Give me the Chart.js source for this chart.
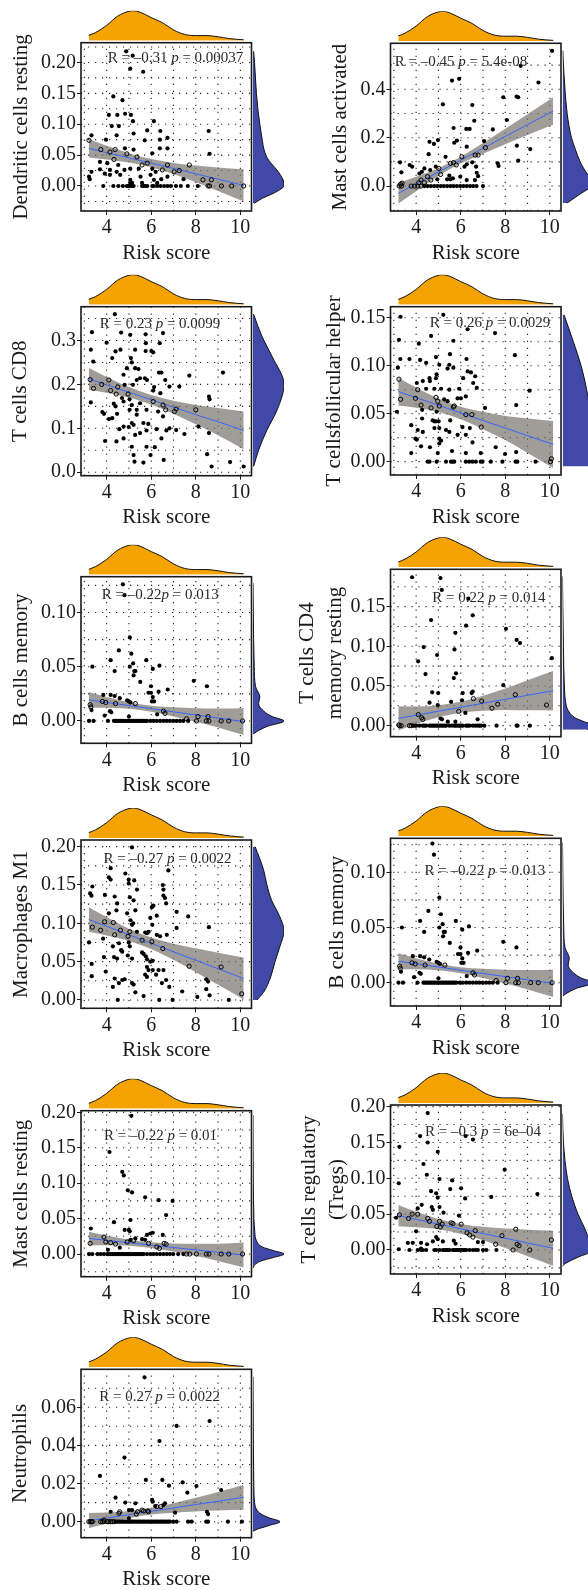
<!DOCTYPE html>
<html><head><meta charset="utf-8">
<script src="https://cdn.jsdelivr.net/npm/chart.js@4/dist/chart.umd.min.js"></script>
<style>
body{margin:0;background:#fff}
#wrap{position:relative;width:588px;height:1590px;overflow:hidden;background:#fff}
canvas{position:absolute}
</style></head><body><div id="wrap"></div>
<script>
// ---------------- DATA ----------------
const riskTicks = [4, 6, 8, 10];
const riskTickLabels = ['4', '6', '8', '10'];
const fitX = [3.2, 4, 5, 6, 7, 8, 9, 10.15];
const topDensX = [3.2, 3.5, 4, 4.5, 5, 5.2, 5.5, 6, 6.5, 7, 7.5, 8, 8.5, 9, 9.5, 10.15];
const topDensD = [0.18, 0.27, 0.51, 0.82, 0.98, 1.0, 0.95, 0.77, 0.6, 0.36, 0.21, 0.17, 0.17, 0.13, 0.07, 0.03];

// 1 Dendritic cells resting
const dcRestPts = [[4.88,0.218],[5.17,0.211],[5.06,0.19],[5.64,0.185],[4.3,0.145],[4.71,0.139],[4.1,0.115],[4.48,0.115],[4.83,0.117],[5.09,0.115],
[4.55,0.097],[4.23,0.097],[5.18,0.105],[6.12,0.105],[5.82,0.09],[6.41,0.089],[4.45,0.082],[5.21,0.085],[8.58,0.089],[3.21,0.074],
[3.32,0.082],[3.97,0.075],[5.71,0.074],[6.39,0.075],[6.73,0.078],[3.74,0.059],[4.15,0.055],[4.38,0.059],[4.82,0.061],[5.21,0.059],
[4.91,0.052],[5.36,0.047],[6.05,0.053],[6.39,0.061],[6.73,0.061],[8.62,0.052],[3.21,0.015],[3.32,0.023],[3.7,0.039],[4.03,0.037],
[3.7,0.027],[3.92,0.02],[4.15,0.026],[4.33,0.043],[4.52,0.034],[4.45,0.023],[4.8,0.026],[5.06,0.028],[5.44,0.028],[5.82,0.037],
[5.59,0.034],[6.05,0.028],[6.2,0.023],[6.5,0.026],[6.73,0.034],[7.03,0.023],[7.26,0.025],[7.71,0.034],[7.45,0.011],[8.32,0.01],
[8.7,0.01],[5.97,0.018],[6.45,0.011],[6.73,0.015],[5.52,0.015],[5.06,0.01],[4.61,0.018],[4.15,0.018],[3.24,0.011],[5.06,0.005],
[5.14,0.005],[5.59,0.005],[6.12,0.01],[6.27,0.005],
[3.85,0],[4.3,0],[4.53,0],[4.73,0],[4.91,0],[4.98,0],[5.06,0],[5.14,0],[5.21,0],[5.59,0],[5.67,0],[5.74,0],[5.82,0],[6.05,0],
[6.12,0],[6.27,0],[6.42,0],[6.58,0],[6.73,0],[6.88,0],[7.11,0],[7.33,0],[7.64,0],[8.09,0],[8.55,0],[8.62,0],[9.15,0],[9.61,0],[10.15,0]];
const dcRestFit = [0.061,0.054,0.0455,0.037,0.0284,0.0197,0.011,0.001];
const dcRestUp  = [0.076,0.065,0.053,0.0435,0.0374,0.0332,0.030,0.027];
const dcRestLo  = [0.046,0.043,0.038,0.0305,0.0194,0.0062,-0.008,-0.025];
const dcRestDensV = [-0.028,-0.02,-0.012,-0.005,0,0.01,0.026,0.042,0.058,0.074,0.1,0.123,0.15,0.2,0.218];
const dcRestDensD = [0.04,0.3,0.65,0.9,1,0.97,0.77,0.5,0.36,0.3,0.22,0.16,0.11,0.05,0.02];
const dcRestYTicks = [0, 0.05, 0.1, 0.15, 0.2];
const dcRestYLabels = ['0.00','0.05','0.10','0.15','0.20'];

// 2 Mast cells activated
const mastActPts = [[10.1,0.559],[9.49,0.428],[8.69,0.497],[7.91,0.367],[8.51,0.37],[8.58,0.367],[5.61,0.436],[5.93,0.443],[5.2,0.338],[6.52,0.335],
[8.07,0.273],[6.61,0.27],[7.44,0.234],[6.25,0.236],[6.4,0.236],[5.68,0.24],[5.71,0.179],[5.83,0.188],[4.98,0.19],[4.6,0.183],
[4.8,0.174],[6.27,0.163],[7.05,0.186],[7.11,0.159],[8.52,0.167],[9.12,0.153],[4.56,0.132],[5.32,0.121],[6.65,0.128],[6.78,0.128],
[6.05,0.121],[7.66,0.094],[7.7,0.083],[8.58,0.105],[3.28,0.098],[3.71,0.087],[3.82,0.08],[3.34,0.057],[4.15,0.052],[4.26,0.059],
[4.37,0.073],[4.63,0.066],[4.88,0.08],[5.02,0.073],[5.54,0.094],[5.68,0.097],[5.8,0.087],[6.17,0.08],[6.27,0.09],[6.52,0.098],
[6.69,0.08],[6.72,0.055],[6.78,0.041],[6.64,0.025],[5.1,0.048],[5.49,0.043],[5.65,0.032],[5.98,0.039],[4.51,0.039],[4.66,0.025],
[4.22,0.025],[4.12,0.014],[4.37,0.014],[3.3,0.008],[3.37,0.012],[4.95,0.028],[5.39,0.028],[5.54,0.028],[6.27,0.025],
[3.24,0],[3.34,0],[3.78,0],[3.93,0],[4.07,0],[4.22,0],[4.37,0],[4.51,0],[4.66,0],[4.81,0],[4.95,0],[5.1,0],[5.24,0],[5.39,0],
[5.54,0],[5.68,0],[5.83,0],[5.98,0],[6.12,0],[6.27,0],[6.42,0],[6.56,0],[6.71,0],[7.0,0]];
const mastActFit = [-0.03,0.009,0.058,0.107,0.156,0.205,0.254,0.31];
const mastActUp  = [0.012,0.039,0.074,0.121,0.178,0.237,0.297,0.367];
const mastActLo  = [-0.072,-0.021,0.042,0.093,0.134,0.173,0.211,0.253];
const mastActDensV = [-0.07,-0.03,0,0.02,0.05,0.1,0.15,0.2,0.3,0.4,0.5,0.56];
const mastActDensD = [0.15,0.6,0.95,1,0.8,0.57,0.42,0.29,0.15,0.08,0.03,0.01];
const mastActYTicks = [0, 0.2, 0.4];
const mastActYLabels = ['0.0','0.2','0.4'];

// 3 T cells CD8
const cd8Pts = [[4.37,0.36],[3.34,0.319],[3.29,0.279],[3.4,0.252],[4.0,0.295],[4.4,0.275],[4.25,0.26],[4.62,0.279],[4.65,0.318],[5.06,0.313],
[5.28,0.279],[5.28,0.237],[5.09,0.26],[5.13,0.25],[4.91,0.237],[5.75,0.276],[6.01,0.276],[6.09,0.273],[5.76,0.294],[5.75,0.314],
[6.38,0.294],[6.53,0.317],[3.26,0.211],[3.41,0.191],[3.78,0.2],[4.1,0.21],[4.18,0.186],[4.43,0.178],[4.5,0.194],[4.76,0.222],
[4.81,0.199],[4.96,0.178],[5.03,0.166],[5.18,0.199],[5.35,0.21],[5.43,0.235],[5.5,0.214],[5.72,0.214],[5.81,0.21],[6.13,0.194],
[6.09,0.186],[6.35,0.227],[6.46,0.227],[6.63,0.21],[6.41,0.18],[6.82,0.195],[7.26,0.195],[7.71,0.22],[9.22,0.227],[3.29,0.159],
[3.81,0.137],[3.88,0.133],[4.1,0.121],[4.25,0.123],[4.32,0.156],[4.4,0.15],[4.47,0.133],[4.69,0.169],[4.76,0.161],[5.03,0.142],
[5.13,0.153],[5.35,0.142],[5.35,0.131],[5.5,0.157],[5.79,0.142],[6.09,0.161],[6.31,0.138],[6.53,0.153],[6.65,0.142],[6.53,0.127],
[7.04,0.138],[7.12,0.144],[8.59,0.172],[8.62,0.166],[8.0,0.142],[4.57,0.098],[4.76,0.104],[4.99,0.103],[5.13,0.112],[5.21,0.108],
[5.65,0.112],[5.79,0.095],[5.87,0.11],[6.24,0.098],[6.68,0.095],[6.82,0.1],[7.12,0.096],[8.12,0.104],[8.59,0.089],[7.49,0.087],
[3.93,0.071],[4.44,0.07],[4.76,0.077],[5.28,0.085],[5.5,0.089],[5.13,0.058],[5.21,0.039],[5.25,0.024],[5.79,0.058],[6.16,0.057],
[5.97,0.039],[6.46,0.077],[6.56,0.028],[5.65,0.022],[8.51,0.041],[8.71,0.013],[9.54,0.023],[10.15,0.013]];
const cd8Fit = [0.213,0.199,0.182,0.165,0.148,0.131,0.115,0.095];
const cd8Up  = [0.238,0.217,0.194,0.176,0.163,0.153,0.146,0.138];
const cd8Lo  = [0.188,0.181,0.170,0.154,0.133,0.109,0.084,0.052];
const cd8DensV = [0.013,0.05,0.096,0.142,0.2,0.263,0.309,0.36];
const cd8DensD = [0.02,0.18,0.45,0.78,1.0,0.62,0.29,0.02];
const cd8YTicks = [0, 0.1, 0.2, 0.3];
const cd8YLabels = ['0.0','0.1','0.2','0.3'];

// 4 T cells follicular helper
const tfhPts = [[3.3,0.151],[5.22,0.153],[3.23,0.127],[4.12,0.123],[4.67,0.131],[5.67,0.126],[6.31,0.138],[7.54,0.134],[8.43,0.111],[3.29,0.107],
[3.7,0.107],[4.18,0.106],[4.45,0.103],[4.89,0.109],[5.52,0.112],[5.04,0.101],[6.26,0.107],[5.49,0.101],[3.18,0.098],[4.92,0.091],
[6.11,0.087],[6.31,0.094],[6.46,0.093],[6.65,0.089],[4.89,0.087],[5.41,0.097],[5.67,0.098],[3.23,0.086],[4.03,0.082],[4.3,0.084],
[4.6,0.087],[4.62,0.084],[4.07,0.075],[4.45,0.076],[4.82,0.076],[5.12,0.076],[5.49,0.075],[5.93,0.076],[6.23,0.068],[6.56,0.082],
[6.72,0.077],[9.09,0.074],[3.3,0.065],[3.97,0.066],[4.22,0.059],[4.89,0.067],[4.97,0.063],[5.26,0.065],[5.86,0.066],[6.01,0.066],
[5.41,0.063],[8.49,0.059],[3.14,0.052],[4.27,0.054],[4.67,0.056],[5.04,0.058],[4.92,0.052],[5.67,0.057],[5.71,0.058],[7.09,0.056],
[6.5,0.049],[3.78,0.038],[4.27,0.045],[4.74,0.043],[4.82,0.042],[4.89,0.042],[5.01,0.042],[5.53,0.043],[6.23,0.049],[4.07,0.033],
[4.3,0.031],[4.82,0.035],[5.04,0.035],[5.34,0.033],[5.49,0.031],[6.08,0.036],[5.86,0.028],[6.23,0.028],[6.41,0.035],[6.92,0.036],
[3.97,0.024],[4.03,0.023],[5.04,0.024],[5.12,0.022],[5.04,0.019],[4.22,0.016],[4.62,0.015],[5.61,0.011],[6.53,0.02],[7.57,0.015],
[7.99,0.008],[8.49,0.01],[3.78,0.009],[4.97,0.009],[6.23,0.009],[6.9,0.009],[10.07,0.003],
[4.52,0],[4.6,0],[4.92,0],[5.34,0],[5.56,0],[5.64,0],[5.71,0],[6.23,0],[6.38,0],[6.53,0],[6.68,0],[6.9,0],[6.98,0],[7.35,0],
[7.87,0],[8.46,0],[8.54,0],[9.36,0],[10.03,0]];
const tfhFit = [0.073,0.0667,0.0588,0.0508,0.0429,0.035,0.0271,0.018];
const tfhUp  = [0.0875,0.0772,0.0658,0.0573,0.0519,0.0475,0.0451,0.0425];
const tfhLo  = [0.0585,0.0562,0.0518,0.0443,0.0339,0.0225,0.0091,-0.0065];
const tfhDensV = [-0.005,0,0.025,0.05,0.075,0.1,0.125,0.153];
const tfhDensD = [0.9,1,0.97,0.9,0.78,0.6,0.35,0.05];
const tfhYTicks = [0, 0.05, 0.1, 0.15];
const tfhYLabels = ['0.00','0.05','0.10','0.15'];

// 5 & 8 B cells memory
const bMemPts = [[4.73,0.126],[4.8,0.116],[3.36,0.05],[4.55,0.065],[5.04,0.077],[4.18,0.056],[4.36,0.046],[5.04,0.05],[5.11,0.062],[5.19,0.053],
[5.24,0.046],[5.21,0.042],[5.29,0.046],[5.51,0.036],[5.78,0.056],[5.88,0.026],[5.99,0.032],[6.07,0.048],[6.37,0.051],[5.99,0.026],
[6.03,0.018],[6.07,0.022],[6.13,0.018],[6.33,0.027],[6.74,0.029],[7.91,0.037],[8.5,0.032],[3.26,0.015],[3.29,0.013],[3.32,0.01],
[3.81,0.018],[3.85,0.024],[3.96,0.017],[4.18,0.024],[4.36,0.023],[4.4,0.016],[4.59,0.021],[4.92,0.019],[5.0,0.018],[5.07,0.017],
[5.29,0.016],[4.15,0.009],[4.21,0.008],[3.91,0.005],[5.0,0.004],[6.55,0.009],[6.62,0.007],[6.27,0.006],[7.59,0.002],[8.1,0.004],
[8.55,0.004],
[3.21,0],[3.41,0],[4.06,0],[4.33,0],[4.4,0],[4.47,0],[4.55,0],[4.62,0],[4.7,0],[4.77,0],[4.84,0],[4.92,0],[4.99,0],[5.07,0],
[5.14,0],[5.21,0],[5.29,0],[5.36,0],[5.44,0],[5.51,0],[5.59,0],[5.66,0],[5.73,0],[5.81,0],[5.96,0],[6.1,0],[6.25,0],[6.4,0],
[6.55,0],[6.7,0],[6.84,0],[6.99,0],[7.14,0],[7.29,0],[7.44,0],[7.66,0],[8.03,0],[8.47,0],[8.59,0],[9.14,0],[9.48,0],[10.1,0]];
const bMemFit = [0.0194,0.0171,0.0142,0.0113,0.0084,0.0055,0.0027,-0.0006];
const bMemUp  = [0.0266,0.0221,0.0172,0.0141,0.0126,0.0118,0.0115,0.0118];
const bMemLo  = [0.0122,0.0121,0.0112,0.0085,0.0042,-0.0008,-0.0061,-0.013];
const bMemDensV = [-0.012,-0.01,-0.005,0,0.004,0.009,0.016,0.022,0.032,0.05,0.075,0.1,0.127];
const bMemDensD = [0.02,0.11,0.46,1,0.62,0.35,0.18,0.22,0.08,0.04,0.02,0.01,0];
const bMemYTicks = [0, 0.05, 0.1];
const bMemYLabels = ['0.00','0.05','0.10'];

// 6 T cells CD4 memory resting
const cd4Pts = [[3.82,0.187],[5.09,0.186],[5.15,0.171],[6.34,0.16],[4.67,0.133],[6.54,0.139],[6.24,0.126],[8.03,0.122],[5.76,0.117],[8.51,0.108],
[8.66,0.104],[4.34,0.099],[4.94,0.089],[5.72,0.096],[10.09,0.085],[4.09,0.081],[5.79,0.066],[4.42,0.065],[5.69,0.06],[4.99,0.041],
[4.72,0.042],[6.09,0.041],[6.49,0.041],[6.54,0.043],[7.91,0.051],[8.45,0.039],[5.57,0.03],[6.06,0.032],[6.57,0.034],[6.94,0.031],
[7.4,0.022],[7.66,0.027],[9.85,0.026],[5.91,0.018],[6.21,0.016],[4.6,0.029],[4.97,0.026],[4.1,0.014],[4.25,0.01],[4.3,0.008],
[5.09,0.009],[5.16,0.008],[6.76,0.008],[5.42,0.005],[5.76,0.005],[3.22,0.001],
[3.25,0],[3.33,0],[3.7,0],[3.78,0],[3.85,0],[3.93,0],[4.0,0],[4.15,0],[4.3,0],[4.37,0],[4.45,0],[4.6,0],[4.67,0],[4.75,0],
[4.82,0],[4.9,0],[4.97,0],[5.04,0],[5.12,0],[5.19,0],[5.27,0],[5.34,0],[5.49,0],[5.61,0],[5.72,0],[5.79,0],[5.87,0],[5.94,0],
[6.01,0],[6.09,0],[6.24,0],[6.31,0],[6.39,0],[6.54,0],[6.66,0],[6.76,0],[6.84,0],[6.91,0],[7.06,0],[7.61,0],[8.51,0],[8.55,0],[9.1,0]];
const cd4Fit = [0.0092,0.0132,0.0182,0.0232,0.0282,0.0332,0.0383,0.044];
const cd4Up  = [0.0245,0.0242,0.0257,0.0302,0.0377,0.0467,0.0573,0.069];
const cd4Lo  = [-0.0061,0.0022,0.0107,0.0162,0.0187,0.0197,0.0193,0.019];
const cd4DensV = [-0.005,0,0.005,0.01,0.02,0.03,0.05,0.1,0.15,0.188];
const cd4DensD = [0.8,1,0.7,0.4,0.17,0.1,0.06,0.03,0.01,0];
const cd4YTicks = [0, 0.05, 0.1, 0.15];
const cd4YLabels = ['0.00','0.05','0.10','0.15'];

// 7 Macrophages M1
const m1Pts = [[5.14,0.199],[4.18,0.172],[4.84,0.165],[6.77,0.169],[4.1,0.16],[4.18,0.157],[4.99,0.157],[5.24,0.156],[4.99,0.152],[3.36,0.148],
[3.26,0.139],[3.32,0.136],[5.36,0.144],[6.52,0.15],[6.55,0.144],[3.92,0.137],[4.36,0.135],[5.04,0.134],[5.21,0.13],[6.55,0.136],
[6.62,0.133],[6.67,0.126],[4.47,0.126],[6.1,0.123],[6.03,0.121],[5.29,0.117],[4.92,0.113],[4.1,0.113],[4.44,0.117],[6.25,0.11],
[7.14,0.115],[7.66,0.109],[5.96,0.107],[5.07,0.104],[5.19,0.1],[4.3,0.101],[3.91,0.102],[3.73,0.091],[3.36,0.095],[5.14,0.098],
[6.05,0.098],[7.14,0.094],[8.59,0.095],[4.62,0.091],[5.04,0.089],[5.36,0.089],[5.73,0.088],[5.81,0.087],[5.88,0.089],[6.25,0.085],
[6.4,0.083],[6.7,0.085],[4.36,0.085],[4.96,0.083],[3.84,0.08],[3.21,0.075],[4.28,0.07],[4.55,0.074],[4.99,0.075],[5.04,0.07],
[5.59,0.078],[6.03,0.076],[6.52,0.067],[4.7,0.063],[4.65,0.065],[5.59,0.062],[5.66,0.06],[5.76,0.057],[5.81,0.053],[5.96,0.05],
[6.07,0.051],[3.88,0.056],[4.33,0.056],[4.47,0.054],[4.95,0.058],[5.14,0.054],[3.33,0.047],[5.81,0.043],[5.88,0.039],[6.07,0.039],
[6.33,0.039],[6.55,0.039],[7.7,0.044],[9.14,0.043],[3.33,0.031],[3.96,0.037],[4.7,0.026],[4.81,0.027],[4.36,0.028],[4.28,0.017],
[4.55,0.022],[5.14,0.022],[5.21,0.02],[5.73,0.033],[5.81,0.03],[6.22,0.033],[6.67,0.026],[6.81,0.017],[6.48,0.022],[8.47,0.027],
[8.55,0.024],[5.29,0.01],[5.66,0.005],[4.5,0],[6.36,0],[6.96,0],[7.39,0.011],[8.07,0.004],[8.47,0.014],[8.62,0.006],
[9.48,0],[10.06,0.008]];
const m1Fit = [0.105,0.0961,0.085,0.0739,0.0628,0.0518,0.0407,0.028];
const m1Up  = [0.121,0.1081,0.093,0.0814,0.0733,0.0673,0.0617,0.0555];
const m1Lo  = [0.089,0.0841,0.077,0.0664,0.0523,0.0363,0.0197,0.0005];
const m1DensV = [0,0.01,0.03,0.05,0.07,0.09,0.11,0.13,0.15,0.17,0.2];
const m1DensD = [0.13,0.34,0.57,0.71,0.87,1.0,0.85,0.6,0.45,0.34,0.07];
const m1YTicks = [0, 0.05, 0.1, 0.15, 0.2];
const m1YLabels = ['0.00','0.05','0.10','0.15','0.20'];

// 9 Mast cells resting
const mastRestPts = [[5.11,0.195],[4.13,0.144],[4.7,0.116],[4.77,0.111],[4.95,0.09],[5.14,0.087],[5.73,0.08],[6.33,0.076],[6.96,0.075],[6.67,0.055],
[4.33,0.045],[4.81,0.034],[5.0,0.034],[5.07,0.048],[5.04,0.032],[3.29,0.036],[3.26,0.015],[3.88,0.024],[3.96,0.017],[4.18,0.016],
[4.4,0.014],[4.59,0.009],[4.92,0.017],[5.07,0.02],[5.21,0.019],[5.29,0.022],[5.59,0.021],[5.73,0.02],[5.81,0.027],[5.96,0.029],
[6.07,0.03],[5.88,0.015],[6.25,0.01],[6.37,0.008],[6.52,0.027],[6.58,0.015],[6.67,0.014],[4.06,0.006],
[3.21,0],[3.36,0],[3.59,0],[3.73,0],[3.88,0],[4.03,0],[4.1,0],[4.18,0],[4.25,0],[4.33,0],[4.4,0],[4.47,0],[4.55,0],[4.62,0],
[4.7,0],[4.77,0],[4.84,0],[4.92,0],[4.99,0],[5.07,0],[5.14,0],[5.21,0],[5.29,0],[5.36,0],[5.44,0],[5.51,0],[5.59,0],[5.66,0],
[5.81,0],[5.96,0],[6.1,0],[6.25,0],[6.4,0],[6.55,0],[6.7,0],[6.84,0],[6.99,0],[7.21,0],[7.44,0],[7.59,0],[7.73,0],[8.03,0],
[8.47,0],[8.59,0],[9.14,0],[9.48,0],[10.1,0]];
const mastRestFit = [0.022,0.0193,0.0159,0.0126,0.0092,0.0058,0.0024,-0.0014];
const mastRestUp  = [0.0315,0.0261,0.0201,0.0166,0.015,0.0145,0.0146,0.0161];
const mastRestLo  = [0.0125,0.0125,0.0117,0.0086,0.0034,-0.0029,-0.0098,-0.0189];
const mastRestDensV = [-0.02,-0.015,-0.01,-0.005,0,0.005,0.01,0.02,0.03,0.05,0.1,0.196];
const mastRestDensD = [0,0.06,0.25,0.65,1,0.65,0.3,0.1,0.06,0.03,0.01,0];
const mastRestYTicks = [0, 0.05, 0.1, 0.15, 0.2];
const mastRestYLabels = ['0.00','0.05','0.10','0.15','0.20'];

// 10 T cells regulatory (Tregs)
const tregPts = [[4.52,0.191],[3.25,0.144],[4.18,0.159],[4.52,0.15],[4.97,0.137],[6.22,0.159],[6.55,0.154],[7.97,0.112],[4.33,0.12],[4.48,0.105],
[3.22,0.093],[5.05,0.099],[5.62,0.097],[6.02,0.086],[5.53,0.085],[4.67,0.082],[4.9,0.079],[4.97,0.073],[6.2,0.072],[7.37,0.074],
[9.44,0.078],[4.25,0.063],[4.7,0.06],[4.75,0.056],[4.07,0.058],[5.23,0.052],[5.05,0.06],[3.1,0.045],[3.25,0.049],[3.66,0.044],
[3.82,0.05],[4.07,0.05],[4.52,0.044],[4.6,0.04],[5.05,0.04],[4.93,0.033],[5.08,0.032],[5.17,0.036],[5.57,0.038],[5.65,0.037],
[5.92,0.048],[6.02,0.036],[6.28,0.024],[6.4,0.021],[6.65,0.027],[6.55,0.018],[6.77,0.011],[7.0,0.011],[7.85,0.02],[8.47,0.029],
[8.53,0.008],[8.62,0.006],[10.07,0.014],[4.0,0.026],[3.63,0.01],[3.85,0.01],[4.22,0.01],[4.49,0.008],[4.22,0.002],[4.75,0.012],
[4.9,0.018],[4.97,0.015],[5.2,0.012],[5.69,0.013],[5.77,0.009],[7.57,0.008],[3.22,0.001],
[3.7,0],[4.07,0],[4.22,0],[4.3,0],[4.45,0],[4.82,0],[4.9,0],[5.05,0],[5.2,0],[5.27,0],[5.35,0],[5.42,0],[5.5,0],[5.65,0],
[5.72,0],[5.8,0],[5.87,0],[5.95,0],[6.02,0],[6.1,0],[6.17,0],[6.25,0],[6.4,0],[6.55,0],[6.67,0],[6.77,0],[7.0,0],[7.15,0],
[7.6,0],[8.35,0],[9.1,0]];
const tregFit = [0.048,0.0427,0.0362,0.0296,0.023,0.0164,0.0098,0.0023];
const tregUp  = [0.0628,0.0535,0.0434,0.0364,0.0323,0.0299,0.0283,0.0268];
const tregLo  = [0.0332,0.0319,0.029,0.0228,0.0137,0.0029,-0.0087,-0.0222];
const tregDensV = [-0.023,-0.02,-0.01,0,0.01,0.03,0.05,0.075,0.1,0.15,0.19];
const tregDensD = [0,0.05,0.5,1,0.9,0.72,0.5,0.3,0.16,0.03,0];
const tregYTicks = [0, 0.05, 0.1, 0.15, 0.2];
const tregYLabels = ['0.00','0.05','0.10','0.15','0.20'];

// 11 Neutrophils
const neutPts = [[5.7,0.0757],[8.62,0.0528],[7.14,0.0502],[6.37,0.0423],[4.8,0.0336],[3.7,0.024],[5.76,0.0219],[6.5,0.0219],[6.8,0.0189],[7.41,0.0206],
[8.03,0.0187],[7.62,0.0152],[9.14,0.0166],[4.4,0.0126],[6.04,0.0114],[6.07,0.0105],[6.62,0.0096],[6.55,0.0087],[4.84,0.01],[5.29,0.0096],
[4.18,0.0052],[4.59,0.0052],[5.0,0.0061],[5.14,0.0061],[5.39,0.0052],[5.59,0.0061],[5.66,0.0056],[5.84,0.0056],[5.33,0.004],[4.55,0.0044],
[5.88,0.0052],[6.18,0.0082],[6.25,0.0079],[6.43,0.0079],[7.07,0.0047],[8.5,0.0052],[8.55,0.004],[3.88,0.0009],[5.0,0.0017],
[3.2,0],[3.26,0],[3.32,0],[3.36,0],[3.73,0],[3.81,0],[3.88,0],[4.03,0],[4.1,0],[4.18,0],[4.25,0],[4.33,0],[4.4,0],[4.47,0],
[4.55,0],[4.62,0],[4.7,0],[4.77,0],[4.84,0],[4.92,0],[4.99,0],[5.07,0],[5.14,0],[5.21,0],[5.29,0],[5.36,0],[5.44,0],[5.51,0],
[5.59,0],[5.66,0],[5.73,0],[5.81,0],[5.88,0],[5.96,0],[6.03,0],[6.1,0],[6.18,0],[6.25,0],[6.32,0],[6.4,0],[6.47,0],[6.55,0],
[6.62,0],[6.7,0],[6.77,0],[6.84,0],[6.99,0],[7.14,0],[7.66,0],[7.81,0],[8.47,0],[8.55,0],[9.44,0],[10.07,0]];
const neutFit = [0.0005,0.0019,0.0037,0.0055,0.0072,0.009,0.0107,0.0128];
const neutUp  = [0.0045,0.0048,0.0056,0.0073,0.0097,0.0126,0.0156,0.0194];
const neutLo  = [-0.0035,-0.001,0.0018,0.0037,0.0047,0.0054,0.0058,0.0062];
const neutDensV = [-0.005,-0.004,-0.002,0,0.002,0.004,0.006,0.01,0.02,0.05,0.076];
const neutDensD = [0,0.15,0.6,1,0.6,0.3,0.15,0.06,0.03,0.01,0];
const neutYTicks = [0, 0.02, 0.04, 0.06];
const neutYLabels = ['0.00','0.02','0.04','0.06'];

// ---------------- LAYOUT / STYLE ----------------
const FONT = "'Liberation Serif','Times New Roman',serif";
Chart.defaults.font.family = FONT;
Chart.defaults.color = '#1a1a1a';
const ORANGE = '#F5A300', NAVY = '#4048A8', BAND = 'rgba(120,115,110,0.70)', FITC = '#3366FF';
const X_MIN = 2.85, X_MAX = 10.5;
const COLS = [{l: 81, r: 251.5, cl: 0}, {l: 390.5, r: 561, cl: 290}];

const panels = [
  {col:0, t:42.7, b:211, yMin:-0.0405, yMax:0.232, title:'Dendritic cells resting', titleX:21.7, annX:175.5, annY:58.3,
   ann:['R = \u20130.31 ',' = 0.00037'], pts:dcRestPts, fit:dcRestFit, up:dcRestUp, lo:dcRestLo, dv:dcRestDensV, dd:dcRestDensD, yt:dcRestYTicks, yl:dcRestYLabels},
  {col:1, t:43.3, b:211, yMin:-0.103, yMax:0.59, title:'Mast cells activated', titleX:340.7, annX:461, annY:61.7,
   ann:['R = \u20130.45 ',' = 5.4e-08'], pts:mastActPts, fit:mastActFit, up:mastActUp, lo:mastActLo, dv:mastActDensV, dd:mastActDensD, yt:mastActYTicks, yl:mastActYLabels},
  {col:0, t:306.7, b:475.7, yMin:-0.008, yMax:0.377, title:'T cells CD8', titleX:20.7, annX:160, annY:324.3,
   ann:['R = 0.23 ',' = 0.0099'], pts:cd8Pts, fit:cd8Fit, up:cd8Up, lo:cd8Lo, dv:cd8DensV, dd:cd8DensD, yt:cd8YTicks, yl:cd8YLabels},
  {col:1, t:306.7, b:475, yMin:-0.0139, yMax:0.1615, title:'T cellsfollicular helper', titleX:334, annX:490, annY:323.3,
   ann:['R = 0.26 ',' = 0.0029'], pts:tfhPts, fit:tfhFit, up:tfhUp, lo:tfhLo, dv:tfhDensV, dd:tfhDensD, yt:tfhYTicks, yl:tfhYLabels},
  {col:0, t:576.7, b:743.3, yMin:-0.0206, yMax:0.133, title:'B cells memory', titleX:21.7, annX:160.3, annY:595,
   ann:['R = \u20130.22',' = 0.013'], pts:bMemPts, fit:bMemFit, up:bMemUp, lo:bMemLo, dv:bMemDensV, dd:bMemDensD, yt:bMemYTicks, yl:bMemYLabels},
  {col:1, t:569.3, b:736.7, yMin:-0.0139, yMax:0.197, title:['T cells CD4','memory resting'], titleX:307, annX:488.8, annY:598.3,
   ann:['R = 0.22 ',' = 0.014'], pts:cd4Pts, fit:cd4Fit, up:cd4Up, lo:cd4Lo, dv:cd4DensV, dd:cd4DensD, yt:cd4YTicks, yl:cd4YLabels},
  {col:0, t:840, b:1008.3, yMin:-0.0109, yMax:0.2087, title:'Macrophages M1', titleX:21.7, annX:167.5, annY:859.3,
   ann:['R = \u20130.27 ',' = 0.0022'], pts:m1Pts, fit:m1Fit, up:m1Up, lo:m1Lo, dv:m1DensV, dd:m1DensD, yt:m1YTicks, yl:m1YLabels},
  {col:1, t:838.3, b:1006, yMin:-0.0211, yMax:0.1308, title:'B cells memory', titleX:337.3, annX:484.8, annY:871,
   ann:['R = \u20130.22 ',' = 0.013'], pts:bMemPts, fit:bMemFit, up:bMemUp, lo:bMemLo, dv:bMemDensV, dd:bMemDensD, yt:bMemYTicks, yl:bMemYLabels},
  {col:0, t:1110.7, b:1276.7, yMin:-0.032, yMax:0.2023, title:'Mast cells resting', titleX:21.7, annX:160.5, annY:1136,
   ann:['R = \u20130.22 ',' = 0.01'], pts:mastRestPts, fit:mastRestFit, up:mastRestUp, lo:mastRestLo, dv:mastRestDensV, dd:mastRestDensD, yt:mastRestYTicks, yl:mastRestYLabels},
  {col:1, t:1105, b:1274, yMin:-0.0335, yMax:0.2023, title:['T cells regulatory','(Tregs)'], titleX:309, annX:483, annY:1131.7,
   ann:['R = \u20130.3 ',' = 6e\u201304'], pts:tregPts, fit:tregFit, up:tregUp, lo:tregLo, dv:tregDensV, dd:tregDensD, yt:tregYTicks, yl:tregYLabels},
  {col:0, t:1369.3, b:1537.7, yMin:-0.0084, yMax:0.0799, title:'Neutrophils', titleX:20.7, annX:159.7, annY:1397.3, densW:27,
   ann:['R = 0.27 ',' = 0.0022'], pts:neutPts, fit:neutFit, up:neutUp, lo:neutLo, dv:neutDensV, dd:neutDensD, yt:neutYTicks, yl:neutYLabels}
];

const wrap = document.getElementById('wrap');
function place(L, T, R, B, m) {
  const cl = Math.floor(L - m.l), ct = Math.floor(T - m.t), cr = Math.ceil(R + m.r), cb = Math.ceil(B + m.b);
  return {cl, ct, w: cr - cl, h: cb - ct, pad: {left: L - cl, top: T - ct, right: cr - R, bottom: cb - B}};
}
function addCanvas(r) {
  const c = document.createElement('canvas');
  c.width = r.w; c.height = r.h;
  c.style.left = r.cl + 'px'; c.style.top = r.ct + 'px';
  c.style.width = r.w + 'px'; c.style.height = r.h + 'px';
  wrap.appendChild(c);
  return c;
}
function interp(arr, x) {
  for (let i = 0; i < fitX.length - 1; i++) {
    if (x <= fitX[i + 1]) { const t = (x - fitX[i]) / (fitX[i + 1] - fitX[i]); return arr[i] + t * (arr[i + 1] - arr[i]); }
  }
  return arr[arr.length - 1];
}
const baseOpts = {responsive: false, animation: false, events: [], plugins: {legend: {display: false}, tooltip: {enabled: false}}};

function drawMain(p) {
  const col = COLS[p.col];
  const r = place(col.l, p.t, col.r, p.b, {l: col.l - col.cl, t: 16, r: 16, b: 60});
  const cv = addCanvas(r);
  const multi = Array.isArray(p.title);
  const TS = 21, lhMul = multi ? 1.37 : 1.2;
  const yTitlePad = p.titleX - r.cl - TS * lhMul / 2;
  const xTitlePad = r.pad.bottom - TS * 1.2 / 2 - 42;
  const half = (p.yt[1] - p.yt[0]) / 2;
  const yGrid = [];
  for (let k = Math.ceil(p.yMin / half); k * half <= p.yMax + 1e-9; k++) yGrid.push(k * half);
  const xGrid = [];
  for (let v = Math.ceil(X_MIN); v <= X_MAX; v++) xGrid.push(v);
  const inBand = (pt) => pt.x >= fitX[0] && pt.x <= fitX[fitX.length - 1] && pt.y <= interp(p.up, pt.x) && pt.y >= interp(p.lo, pt.x);

  const deco = {
    id: 'deco',
    beforeDatasetsDraw(chart) {
      const {ctx, chartArea: a, scales: {x, y}} = chart;
      ctx.save();
      ctx.beginPath(); ctx.rect(a.left, a.top, a.right - a.left, a.bottom - a.top); ctx.clip();
      ctx.strokeStyle = '#222'; ctx.lineWidth = 1.1; ctx.setLineDash([1.2, 5.8]);
      for (const v of xGrid) { const px = x.getPixelForValue(v); ctx.beginPath(); ctx.moveTo(px, a.bottom); ctx.lineTo(px, a.top); ctx.stroke(); }
      for (const v of yGrid) { const py = y.getPixelForValue(v); ctx.beginPath(); ctx.moveTo(a.left, py); ctx.lineTo(a.right, py); ctx.stroke(); }
      ctx.restore();
    },
    afterDatasetsDraw(chart) {
      const {ctx, chartArea: a} = chart;
      ctx.save(); ctx.strokeStyle = '#1a1a1a'; ctx.lineWidth = 1.6; ctx.setLineDash([]);
      ctx.strokeRect(a.left, a.top, a.right - a.left, a.bottom - a.top); ctx.restore();
    },
    afterDraw(chart) {
      const ctx = chart.ctx;
      ctx.save();
      const nf = '15px ' + FONT, itf = 'italic 15px ' + FONT;
      ctx.font = nf; const w1 = ctx.measureText(p.ann[0]).width, w3 = ctx.measureText(p.ann[1]).width;
      ctx.font = itf; const w2 = ctx.measureText('p').width;
      let x0 = p.annX - r.cl - (w1 + w2 + w3) / 2; const y0 = p.annY - r.ct;
      ctx.fillStyle = '#2a2a2a'; ctx.textBaseline = 'middle'; ctx.textAlign = 'left';
      ctx.font = nf; ctx.fillText(p.ann[0], x0, y0);
      ctx.font = itf; ctx.fillText('p', x0 + w1, y0);
      ctx.font = nf; ctx.fillText(p.ann[1], x0 + w1 + w2, y0);
      ctx.restore();
    }
  };

  new Chart(cv, {
    type: 'line',
    data: {datasets: [
      {data: p.pts.map(([x, y]) => ({x, y})), showLine: false, pointRadius: 2.1, pointHoverRadius: 0,
       pointBackgroundColor: c => inBand(c.raw) ? 'rgba(0,0,0,0)' : '#000',
       pointBorderColor: '#000', pointBorderWidth: c => inBand(c.raw) ? 1 : 0},
      {data: fitX.map((x, i) => ({x, y: p.fit[i]})), borderColor: FITC, borderWidth: 1, pointRadius: 0, tension: 0, fill: false},
      {data: fitX.map((x, i) => ({x, y: p.up[i]})), borderColor: 'rgba(0,0,0,0)', borderWidth: 0, pointRadius: 0,
       cubicInterpolationMode: 'monotone', fill: '+1', backgroundColor: BAND},
      {data: fitX.map((x, i) => ({x, y: p.lo[i]})), borderColor: 'rgba(0,0,0,0)', borderWidth: 0, pointRadius: 0,
       cubicInterpolationMode: 'monotone', fill: false}
    ]},
    options: Object.assign({}, baseOpts, {
      layout: {padding: {top: r.pad.top, right: r.pad.right, left: 0, bottom: 0}},
      scales: {
        x: {type: 'linear', min: X_MIN, max: X_MAX,
            afterBuildTicks: s => { s.ticks = riskTicks.map(v => ({value: v})); },
            afterFit: s => { s.height = r.pad.bottom; },
            ticks: {callback: (v, i) => riskTickLabels[i], font: {size: 20}, color: '#1a1a1a', padding: 1, maxRotation: 0, autoSkip: false},
            grid: {drawOnChartArea: false, drawTicks: true, tickLength: 4, color: '#1a1a1a', lineWidth: 1},
            border: {display: false},
            title: {display: true, text: 'Risk score', font: {size: TS, lineHeight: 1.2}, color: '#1a1a1a', padding: {top: 0, bottom: xTitlePad}}},
        y: {type: 'linear', min: p.yMin, max: p.yMax,
            afterBuildTicks: s => { s.ticks = p.yt.map(v => ({value: v})); },
            afterFit: s => { s.width = r.pad.left; },
            ticks: {callback: (v, i) => p.yl[i], font: {size: 20}, color: '#1a1a1a', padding: 1, autoSkip: false},
            grid: {drawOnChartArea: false, drawTicks: true, tickLength: 4, color: '#1a1a1a', lineWidth: 1},
            border: {display: false},
            title: {display: true, text: p.title, font: {size: TS, lineHeight: lhMul}, color: '#1a1a1a', padding: {top: yTitlePad, bottom: 0}}}
      }
    }),
    plugins: [deco]
  });
}

function drawTop(p) {
  const col = COLS[p.col];
  const B = p.t - 2, T = B - 30;
  const r = place(col.l, T, col.r, B, {l: 0, t: 3, r: 0, b: 0});
  new Chart(addCanvas(r), {
    type: 'line',
    data: {datasets: [{data: topDensX.map((x, i) => ({x, y: topDensD[i]})), borderColor: '#111', borderWidth: 1,
      backgroundColor: ORANGE, fill: 'origin', pointRadius: 0, cubicInterpolationMode: 'monotone'}]},
    options: Object.assign({}, baseOpts, {layout: {padding: r.pad},
      scales: {x: {type: 'linear', display: false, min: X_MIN, max: X_MAX}, y: {type: 'linear', display: false, min: 0, max: 1}}})
  });
}

function drawRight(p) {
  const col = COLS[p.col];
  const L = col.r + 1.5, R = L + (p.densW || 31);
  const r = place(L, p.t, R, p.b, {l: 0, t: 0, r: 3, b: 0});
  new Chart(addCanvas(r), {
    type: 'line',
    data: {datasets: [{data: p.dv.map((v, i) => ({x: p.dd[i], y: v})), borderColor: '#111', borderWidth: 1,
      backgroundColor: NAVY, fill: 'origin', pointRadius: 0, cubicInterpolationMode: 'monotone'}]},
    options: Object.assign({}, baseOpts, {indexAxis: 'y', layout: {padding: r.pad},
      scales: {x: {type: 'linear', display: false, min: 0, max: 1}, y: {type: 'linear', display: false, min: p.yMin, max: p.yMax}}})
  });
}

panels.forEach(p => { drawTop(p); drawRight(p); drawMain(p); });
</script>
</body></html>
